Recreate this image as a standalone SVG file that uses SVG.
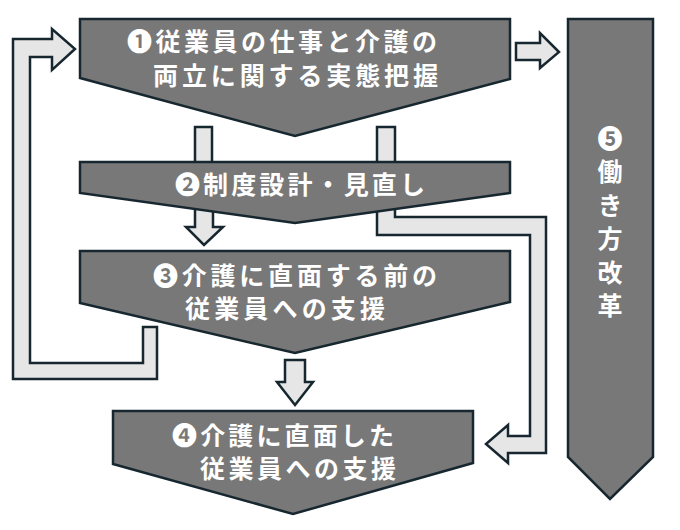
<svg xmlns="http://www.w3.org/2000/svg" width="680" height="530" viewBox="0 0 680 530">
<style>
.node{fill:#787878;stroke:#17272f;stroke-width:2.5;stroke-linejoin:miter}
.conn{fill:#e6e6e6;stroke:#17272f;stroke-width:2.5;stroke-linejoin:miter}
.t{fill:#ffffff;font-family:"Noto Sans CJK JP","Noto Sans CJK SC",sans-serif;font-weight:bold;font-size:25px}
.vt{writing-mode:vertical-rl;text-orientation:upright}
</style>
<rect width="680" height="530" fill="#ffffff"/>
<g id="connectors">
<rect class="conn" x="195" y="127" width="17" height="50"/>
<path class="conn" d="M377,127 L395,127 L395,217 L546,217 L546,453 L508,453 L508,463 L486,444 L508,425 L508,436 L530,436 L530,235 L377,235 Z"/>
<path class="conn" d="M195,200 L213,200 L213,227 L223,227 L204,245 L186,227 L195,227 Z"/>
<path class="conn" d="M285,360 L305,360 L305,382 L313,382 L295,405 L277,382 L285,382 Z"/>
<path class="conn" d="M143,327 L157,327 L157,379 L13,379 L13,39 L52,39 L52,29 L75,49 L52,70 L52,57 L30,57 L30,363 L143,363 Z"/>
<path class="conn" d="M516,43 L540,43 L540,33 L559,52 L540,68 L540,60 L516,60 Z"/>
</g>
<g id="node1">
<polygon class="node" points="80,19 510,19 510,79 295,136 80,78"/>
<text class="t" x="127" y="51" textLength="310" lengthAdjust="spacing">❶従業員の仕事と介護の</text>
<text class="t" x="153" y="85" textLength="285" lengthAdjust="spacing">両立に関する実態把握</text>
</g>
<g id="node2">
<polygon class="node" points="80,162 510,162 510,193 295,223 80,193"/>
<text class="t" x="175" y="194" textLength="250" lengthAdjust="spacing">❷制度設計・見直し</text>
</g>
<g id="node3">
<polygon class="node" points="80,251 510,251 510,302 295,353 80,303"/>
<text class="t" x="153" y="285" textLength="284" lengthAdjust="spacing">❸介護に直面する前の</text>
<text class="t" x="185" y="318" textLength="200" lengthAdjust="spacing">従業員への支援</text>
</g>
<g id="node4">
<polygon class="node" points="113,411 473,411 473,463 293,514 113,464"/>
<text class="t" x="172" y="445" textLength="222" lengthAdjust="spacing">❹介護に直面した</text>
<text class="t" x="200" y="478" textLength="196" lengthAdjust="spacing">従業員への支援</text>
</g>
<g id="node5">
<polygon class="node" points="568,19 653,19 653,457 610,499 568,457"/>
<text class="t vt" x="610" y="126" textLength="192" lengthAdjust="spacing">❺働き方改革</text>
</g>
</svg>
